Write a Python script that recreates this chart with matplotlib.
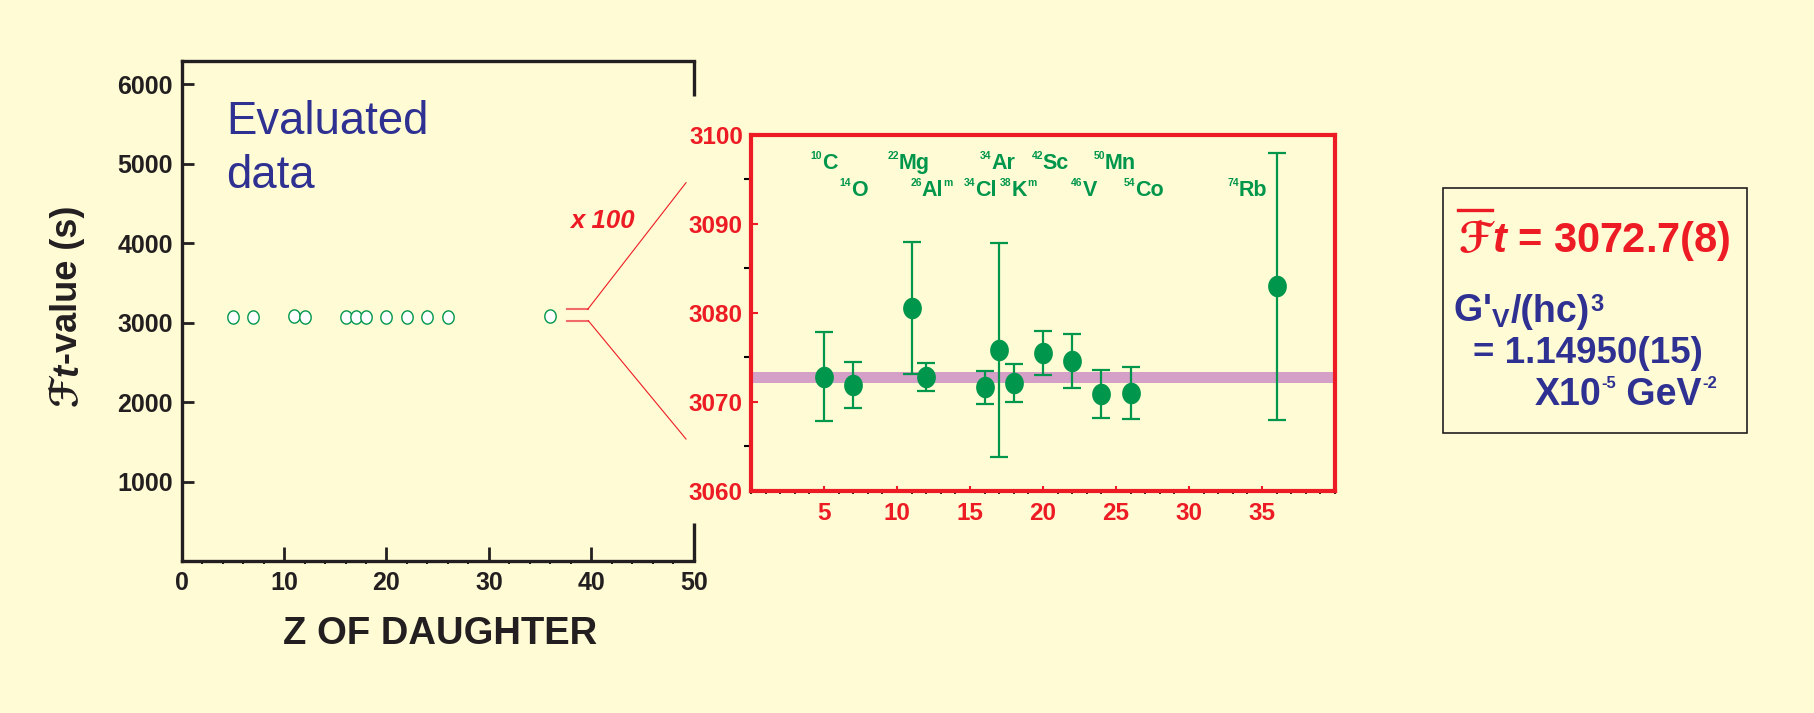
import numpy as np
import matplotlib
matplotlib.use("Agg")
import matplotlib.pyplot as plt
from matplotlib.path import Path
from matplotlib.lines import Line2D
from matplotlib.patches import Rectangle
from matplotlib.ticker import MultipleLocator, FixedLocator

W, H = 1814, 713
BG = "#FFFBD5"
GREEN = "#00964B"
RED = "#ED1C24"
BLUE = "#2E3192"
INK = "#231F20"
BAND = "#D4A0C8"

# superallowed emitters, ordered by Z of the daughter
z_daughter = [5, 7, 11, 12, 16, 17, 18, 20, 22, 24, 26, 36]
ft_values = [3072.8, 3071.9, 3080.5, 3072.8, 3071.6, 3075.8,
             3072.1, 3075.5, 3074.6, 3070.9, 3071.0, 3083.0]
ft_errors = [5.0, 2.6, 7.4, 1.55, 1.85, 12.0, 2.15, 2.5, 3.05, 2.7, 2.9, 15.0]
mass_numbers = ["10", "14", "22", "26", "34", "34", "38", "42", "46", "50", "54", "74"]
symbols = ["C", "O", "Mg", "Al", "Cl", "Ar", "K", "Sc", "V", "Mn", "Co", "Rb"]
isomers = [False, False, False, True, False, False, True, False, False, False, False, False]

ft_average = 3072.7
ft_average_band = 0.65

left_yticks = [1000, 2000, 3000, 4000, 5000, 6000]
left_xticks = [0, 10, 20, 30, 40, 50]
right_yticks = [3060, 3070, 3080, 3090, 3100]
right_xticks = [5, 10, 15, 20, 25, 30, 35]

# label layout: row (1 = upper) and sideways nudge in Z units
label_rows = [1, 2, 1, 2, 2, 1, 2, 1, 2, 1, 2, 2]
label_nudge = [0, 0, -0.2, 0.35, -0.3, -0.1, 0.3, 0.5, 0.8, 0.9, 0.9, -2.0]

FAM = ["Liberation Sans", "DejaVu Sans"]
plt.rcParams["font.family"] = FAM
plt.rcParams["font.weight"] = "bold"
plt.rcParams["mathtext.fontset"] = "custom"
plt.rcParams["mathtext.rm"] = "Liberation Sans:bold"
plt.rcParams["mathtext.bf"] = "Liberation Sans:bold"
plt.rcParams["mathtext.it"] = "Liberation Sans:italic:bold"


def frame(x0, y0, x1, y1):
    # pixel box (top-left origin) -> figure fraction rect
    return [x0 / W, 1 - y1 / H, (x1 - x0) / W, (y1 - y0) / H]


def fx(x):
    return x / W


def fy(y):
    return 1 - y / H


t = np.linspace(0, 2 * np.pi, 61)
ellipse = Path(np.column_stack([0.86 * np.cos(t), np.sin(t)]))

fig = plt.figure(figsize=(W / 100, H / 100), dpi=100, facecolor=BG)
renderer = fig.canvas.get_renderer()


def runs(x, y, parts, color, ha="left"):
    # lay text pieces side by side; x, y display px (bottom-left origin), y = baseline
    # parts: (text, size, rise_px, style)
    made = []
    cx = x
    for s, size, rise, style in parts:
        tt = fig.text(cx / W, (y + rise) / H, s, fontsize=size, color=color,
                      style=style, va="baseline")
        cx += tt.get_window_extent(renderer).width
        made.append(tt)
    shift = {"left": 0, "center": (cx - x) / 2, "right": cx - x}[ha]
    for tt in made:
        px, py = tt.get_position()
        tt.set_x(px - shift / W)
    return made


def vruns(x, y, parts, color):
    # same, rotated 90 deg and centred on y; x is the baseline
    made = []
    cy = y
    for s, size, style in parts:
        tt = fig.text(x / W, cy / H, s, fontsize=size, color=color, style=style,
                      rotation=90, rotation_mode="anchor", ha="left", va="baseline")
        cy += tt.get_window_extent(renderer).height
        made.append(tt)
    shift = (cy - y) / 2
    for tt in made:
        px, py = tt.get_position()
        tt.set_y(py - shift / H)
    return made


# ---- left panel: all data on full scale
ax1 = fig.add_axes(frame(181.7, 61, 693.7, 561))
ax1.set_facecolor("none")
ax1.plot(z_daughter, ft_values, ls="none", marker=ellipse, ms=9.5,
         mfc="white", mec=GREEN, mew=1.0)
ax1.set_xlim(0, 50)
ax1.set_ylim(0, 6290)
ax1.set_xticks(left_xticks)
ax1.set_yticks(left_yticks)
ax1.xaxis.set_minor_locator(MultipleLocator(2))
for s in ["left", "top", "bottom"]:
    ax1.spines[s].set_color(INK)
    ax1.spines[s].set_linewidth(2.4)
ax1.spines["right"].set_visible(False)
tr = ax1.get_yaxis_transform()
ax1.plot([1, 1], [5850, 6290], transform=tr, color=INK, lw=2.4, clip_on=False,
         solid_capstyle="butt")
ax1.plot([1, 1], [0, 480], transform=tr, color=INK, lw=2.4, clip_on=False,
         solid_capstyle="butt")
ax1.tick_params(direction="in", colors=INK, labelsize=18)
ax1.tick_params(axis="y", which="major", length=8.6, width=2, pad=6.5)
ax1.tick_params(axis="x", which="major", length=10, width=2, pad=7)
ax1.tick_params(axis="x", which="minor", length=2.2, width=1.3)

fig.text(fx(226), fy(134.3), "Evaluated", color=BLUE, fontsize=32.8,
         fontweight="normal", va="baseline")
fig.text(fx(226), fy(188.3), "data", color=BLUE, fontsize=32.8,
         fontweight="normal", va="baseline")
fig.text(fx(440), fy(644), "Z OF DAUGHTER", color=INK, fontsize=27.5,
         ha="center", va="baseline")
vruns(77, H - 306, [("ℱ", 27, "normal"), ("t", 26, "italic"),
                    ("-value (s)", 26, "normal")], INK)

# ---- zoom callout
fig.text(fx(570), fy(227.7), "x 100", color=RED, fontsize=18.5,
         style="italic", va="baseline")
fig.add_artist(Line2D([fx(566.7), fx(587.7)], [fy(309.3)] * 2, color="#F26B6B", lw=1.5))
fig.add_artist(Line2D([fx(566.7), fx(588.3)], [fy(320.7)] * 2, color="#F26B6B", lw=1.5))
fig.add_artist(Line2D([fx(587.7), fx(686)], [fy(309.3), fy(182.7)], color=RED, lw=0.8))
fig.add_artist(Line2D([fx(588.3), fx(686)], [fy(320.7), fy(439)], color=RED, lw=0.8))

# ---- right panel: magnified view
ax2 = fig.add_axes(frame(751, 134.7, 1335, 490.7))
ax2.set_facecolor("none")
ax2.axhspan(ft_average - ft_average_band, ft_average + ft_average_band,
            color=BAND, lw=0, zorder=1)
ax2.errorbar(z_daughter, ft_values, yerr=ft_errors, fmt="none", ecolor=GREEN,
             elinewidth=1.6, capsize=6.4, capthick=1.6, zorder=2)
ax2.plot(z_daughter, ft_values, ls="none", marker=ellipse, ms=14.5,
         color=GREEN, zorder=3)
ax2.set_xlim(0, 40)
ax2.set_ylim(3060, 3100)
ax2.xaxis.set_major_locator(FixedLocator(right_xticks))
ax2.xaxis.set_minor_locator(MultipleLocator(1))
ax2.set_yticks(right_yticks)
ax2.yaxis.set_minor_locator(MultipleLocator(5))
for s in ax2.spines.values():
    s.set_color(RED)
    s.set_linewidth(3)
ax2.tick_params(direction="in", colors=RED, labelsize=17.5)
ax2.tick_params(axis="y", which="both", length=5, width=1.5, pad=5.8)
ax2.tick_params(axis="x", which="major", length=3.5, width=1.5, pad=8)
ax2.tick_params(axis="x", which="minor", length=2, width=1.2)

row_y = {1: 3096.1, 2: 3093.1}
for z, a, sym, iso, row, dz in zip(z_daughter, mass_numbers, symbols, isomers,
                                   label_rows, label_nudge):
    x_d, y_d = ax2.transData.transform((z + dz, row_y[row]))
    parts = [(a, 7.5, 10, "normal"), (sym, 15.5, 0, "normal")]
    if iso:
        parts.append(("m", 7.5, 10, "normal"))
    runs(x_d, y_d, parts, GREEN, ha="center")

# ---- result box
fig.add_artist(Rectangle((fx(1443.3), fy(432.7)), 304 / W, 244.4 / H,
                         transform=fig.transFigure, fc="none", ec=INK, lw=1.2))
f_glyph = fig.text(fx(1458), fy(251.7), "ℱ", color=RED, fontsize=30, va="baseline")
bb = f_glyph.get_window_extent(renderer)
fig.text(bb.x1 / W, fy(251.7), r"$\mathit{t}$ = 3072.7(8)", color=RED,
         fontsize=30, va="baseline")
fig.add_artist(Line2D([bb.x0 / W, bb.x1 / W], [fy(210)] * 2, color=RED, lw=2.4))

runs(1453, H - 321.7, [(r"G$'_{\mathrm{V}}$", 27, 0, "normal"),
                       ("/(hc)", 27, 0, "normal"),
                       ("3", 17, 10.5, "normal")], BLUE)
runs(1473.3, H - 362.7, [("= 1.14950(15)", 26.5, 0, "normal")], BLUE)
runs(1535, H - 405, [("X10", 27, 0, "normal"), ("-5", 12, 17, "normal"),
                     (" GeV", 27, 0, "normal"), ("-2", 12, 17, "normal")], BLUE)

fig.savefig("out.png", dpi=100, facecolor=BG)
